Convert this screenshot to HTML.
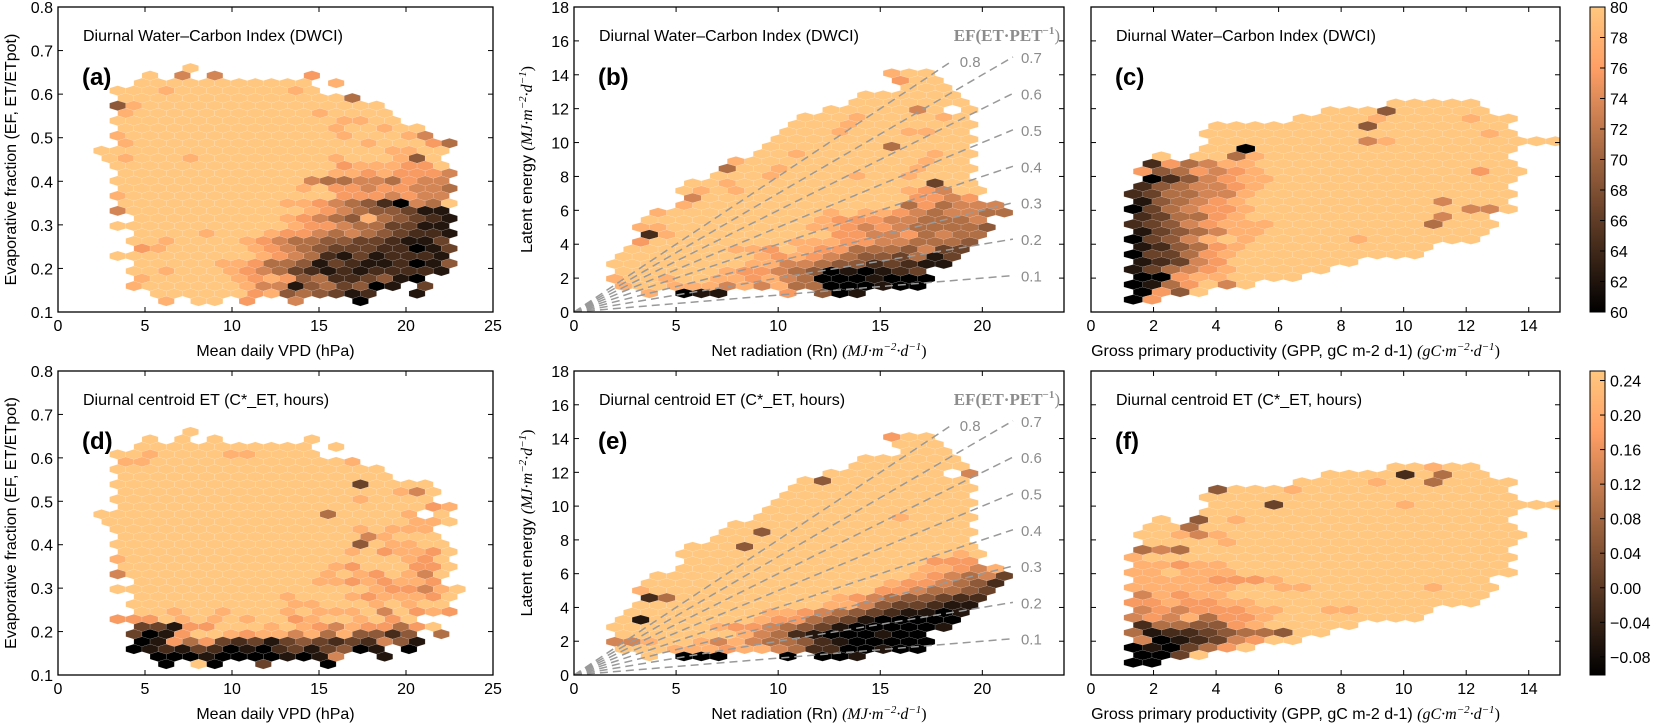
<!DOCTYPE html>
<html><head><meta charset="utf-8"><style>
html,body{margin:0;padding:0;background:#fff;}
svg{display:block;font-family:"Liberation Sans",sans-serif;}
</style></head><body>
<svg id="fig" width="1660" height="726" viewBox="0 0 1660 726" xmlns="http://www.w3.org/2000/svg"></svg>
<script>
// ---------- data (hexbin level maps; 0=black .. 9=lightest) ----------
const efValues = [0.1,0.2,0.3,0.4,0.5,0.6,0.7,0.8];
const efLineEnds = [21.5,21.5,21.5,21.5,21.5,21.5,21.5,18.5];
const cb1Ticks = [60,62,64,66,68,70,72,74,76,78,80];
const cb2Ticks = [-0.08,-0.04,0.00,0.04,0.08,0.12,0.16,0.20,0.24];
const cb2Labels = ["\u22120.08","\u22120.04","0.00","0.04","0.08","0.12","0.16","0.20","0.24"];
const vpdTicks = [0,5,10,15,20,25];
const efTicks = [0.1,0.2,0.3,0.4,0.5,0.6,0.7,0.8];
const rnTicks = [0,5,10,15,20];
const leTicks = [0,2,4,6,8,10,12,14,16,18];
const gppTicks = [0,2,4,6,8,10,12,14];

const hexA = [
[0,".......9"],[0,".....9.6.6.....7"],[0,"....99999999999.8"],[0,"...9998999999989"],
[0,"...999999999999995"],[0,"...48999999999999999"],[0,"...89999999999989999"],[0,"...999999999999998899"],
[0,"...9999999999999899899"],[0,"...89999999999999899986"],[0,"...899999999999999899975"],[0,"..9999999999999999998899"],
[0,"..989998999999998999849"],[0,"...999999999999997888779"],[0,"...999999999999988787776"],[0,"...999999999999655665766"],
[0,"...999999999998977677665"],[0,"...899999999999997776766"],[0,"...999999999988765420659"],[0,"...699999999999876544311"],
[0,"....99999999987654854321"],[0,"...999999999998776553311"],[0,"....99998999877656543221"],[0,"....99899998765544332113"],
[0,"....78999998765433322013"],[0,"...999999999876521312221"],[0,"....99999887554132112014"],[0,"....99899987653212122221"],
[0,"....899999878745223410"],[0,"....89999998661453401.3"],[0,".....99999978454312..1"],[0,"......8.99.7..6...0"]
];
const hexD = [
[0,".......9"],[0,".....9.9.9.....9"],[0,"....99999999999.9"],[0,"...9989999889999"],
[0,"...889999999999998"],[0,"...99999999999999999"],[0,"...99999999999999999"],[0,"...99999999999999939999"],
[0,"...99999999999999999869"],[0,"...99999999999999989999"],[0,"...999999999999999999978"],[0,"..99999999999999599998.9"],
[0,"..9999999999999999999889"],[0,"...99999999999999989888"],[0,"...99999999999999968999"],[0,"...999999999999999498899"],
[0,"...999999999999998978879"],[0,"...899999999999999999879"],[0,"...999999999999987999779"],[0,"...699999999999989879869"],
[0,"....9999999999988787887"],[0,"...9999999999999999877689"],[0,"....99999999989998788879"],[0,"....99999999998899989899"],
[0,"....99899899989888969787"],[0,"...7779898989978998979"],[0,"....3317799989876877579"],[0,"....301799878868584424.5"],
[0,"....017573231343232641"],[0,"....0121320102313401.0"],[0,".....000100001016..1"],[0,"......0.90..3...0"]
];
const hexB = [
[18,"899"],[18,"799"],[19,"999"],[16,"999999"],[16,"9999999"],[14,"9999969.9"],[13,"9998999989"],
[12,"99989999999"],[12,"99989998899"],[11,"999999999999"],[11,"999999959999"],[10,"9989999999899"],
[9,"89999999999899"],[8,"599899999998999"],[8,"999899998998999"],[6,"99899999999999399"],
[6,"989899999999987699"],[6,"69999999999997767"],[6,"8999999999999575666"],[4,"899999999989887656655"],
[4,"99999999998777665556"],[3,"889999999988767655554"],[4,"28999999999776675655"],[3,"79999999988877665554"],
[3,"99999988798775554633"],[2,"99999999878765443513"],[2,"99999999886654423211"],[2,"999999877654010123"],
[2,"8998998878650001000"],[2,"899888686855000100"],[4,"8.011...7.401"]
];
const hexE = [
[18,"799"],[18,"999"],[19,"999"],[16,"999999"],[16,"9999999"],[14,"9999999.6"],[13,"9499999999"],
[12,"99999999999"],[12,"99999999999"],[11,"999999999999"],[11,"999999999999"],[10,"9999999989999"],
[9,"99999999999999"],[8,"994999999999999"],[8,"999999999999999"],[6,"99949999999999999"],
[6,"999999999999999989"],[6,"99999999999999777"],[6,"9999999999999988768"],[4,"999999999999999876563"],
[4,"999999999999998776542"],[3,"899999999999997765543"],[4,"25999999999876544322"],[3,"99999999999886433211"],
[3,"99999999887654321101"],[2,"91999999877543100000"],[2,"99999987765431000001"],[2,"999999986521000100"],
[2,"6689986865542100000"],[2,"999888788652200100"],[4,"9.000...0.001"]
];
const hexC = [
[14,"99999"],[10,"999499999"],[9,"999989999899"],[4,"9999999949999999"],[4,"99999999999999989"],
[4,"9999999968999999999"],[4,"99099999999999999"],[1,"9.99589999999999999"],[1,"27568899999999999999"],
[0,"745767899999999999799"],[1,"02467889999999999999"],[0,"24566789999999999999"],[0,"235566899999999999999"],
[0,"14567899999999996999"],[0,"035677899999999999669"],[0,"2355789999999999699"],[0,"23467888999999995999"],
[0,"1345688999999999999"],[0,"0346898999998999999"],[0,"1245789999999999"],[0,"0335789999999999"],
[0,"123679999999"],[0,"13567899999"],[0,"007889999"],[0,"0157969"],[0,"0749"],[0,"07"]
];
const hexF = [
[14,"99899"],[10,"999929599"],[9,"999989959999"],[4,"4999899999999999"],[4,"99999999999999999"],
[4,"9993999999899999999"],[4,"99999999999999999"],[1,"9.49899999999999999"],[1,"99599999999999999999"],
[0,"998689999999999999999"],[1,"99998999999999999999"],[0,"56599999999999999999"],[0,"899999999999999999999"],
[0,"88788999999999999999"],[0,"889888999999999999999"],[0,"8888777899999999999"],[0,"88888899889999998999"],
[0,"6878899999999999999"],[0,"7787788999999999999"],[0,"6767778899889999"],[0,"6768577899999999"],
[0,"255447899999"],[0,"51223455499"],[0,"601236799"],[0,"0103579"],[0,"0039"],[0,"00"]
];

// ---------- helpers ----------
const NS = "http://www.w3.org/2000/svg";
const svg = document.getElementById('fig');
function mk(tag, attrs, parent){
  const e = document.createElementNS(NS, tag);
  for (const k in attrs) e.setAttribute(k, attrs[k]);
  (parent||svg).appendChild(e);
  return e;
}
function copper(f){
  f = Math.max(0, Math.min(1, f));
  const r = Math.min(1, 1.25*f), g = 0.7812*f, b = 0.4975*f;
  return "rgb(" + Math.round(r*255) + "," + Math.round(g*255) + "," + Math.round(b*255) + ")";
}
function scale(d0, d1, p0, p1){ return v => p0 + (v - d0) / (d1 - d0) * (p1 - p0); }

const COLS = [
  {L:58,R:493,x0:0,x1:25,y0:0.1,y1:0.8},
  {L:574,R:1064,x0:0,x1:24,y0:0,y1:18},
  {L:1091,R:1560,x0:0,x1:15,y0:0,y1:18}
];
const ROWS = [{T:7,B:312},{T:371,B:675}];
const GRIDS = [
  {gx:0.64,dx:0.93,gy:0.125,dy:0.01725},
  {gx:0.3,dx:0.848,gy:1.1,dy:0.433},
  {gx:1.35,dx:0.6,gy:0.73,dy:0.445}
];

function drawHexes(g, rows, grid, sx, sy, name){
  const kx = Math.abs(sx(1) - sx(0)), ky = Math.abs(sy(1) - sy(0));
  const w = grid.dx * kx, rr = grid.dy * ky;
  const n = rows.length;
  rows.forEach((row, i) => {
    const r = n - 1 - i;
    const start = row[0], s = row[1];
    for (let j = 0; j < s.length; j++){
      const ch = s[j];
      if (ch < '0' || ch > '9') continue;
      const k = start + j;
      const cx = sx(grid.gx + grid.dx * (k + (r % 2 ? 0.5 : 0)));
      const cy = sy(grid.gy + grid.dy * r);
      const pts = [[w/2,-rr/3],[w/2,rr/3],[0,2*rr/3],[-w/2,rr/3],[-w/2,-rr/3],[0,-2*rr/3]]
        .map(p => (cx+p[0]).toFixed(2) + "," + (cy+p[1]).toFixed(2)).join(" ");
      const hx = mk('polygon', {points: pts, fill: copper(+ch / 9), stroke: "rgba(255,255,255,0.22)", "stroke-width": "0.5"}, g);
      
      
    }
  });
}

function drawAxes(g, c, rw, sx, sy, xt, yt, showY, yFmt, xFmt, name){
  const fr = mk('rect', {x:c.L, y:rw.T, width:c.R-c.L, height:rw.B-rw.T, fill:"none", stroke:"#000", "stroke-width":"1.3"}, g);
  
  
  xt.forEach(v => {
    const x = sx(v);
    mk('line', {x1:x, x2:x, y1:rw.B, y2:rw.B-5, stroke:"#000", "stroke-width":"1"}, g);
    mk('line', {x1:x, x2:x, y1:rw.T, y2:rw.T+5, stroke:"#000", "stroke-width":"1"}, g);
    const t = mk('text', {x:x, y:rw.B+19, "font-size":"16", "text-anchor":"middle"}, g);
    t.textContent = xFmt(v);
    
    
  });
  yt.forEach(v => {
    const y = sy(v);
    mk('line', {x1:c.L, x2:c.L+5, y1:y, y2:y, stroke:"#000", "stroke-width":"1"}, g);
    mk('line', {x1:c.R, x2:c.R-5, y1:y, y2:y, stroke:"#000", "stroke-width":"1"}, g);
    if (showY){
      const t = mk('text', {x:c.L-5, y:y+6, "font-size":"16", "text-anchor":"end"}, g);
      t.textContent = yFmt(v);
      
      
    }
  });
}

function unitsText(parent, x, y, anchor, prefix, u1, rotate){
  const t = mk('text', {x:x, y:y, "font-size":"16", "text-anchor":anchor}, parent);
  if (rotate) t.setAttribute('transform', 'rotate(-90 ' + x + ' ' + y + ')');
  const a = mk('tspan', {}, t); a.textContent = prefix;
  const b = mk('tspan', {"font-family":"Liberation Serif, serif", "font-style":"italic"}, t); b.textContent = "(" + u1 + "\u00B7m";
  const c = mk('tspan', {"font-family":"Liberation Serif, serif", "font-style":"italic", "font-size":"11", dy:"-6"}, t); c.textContent = "\u22122";
  const d = mk('tspan', {"font-family":"Liberation Serif, serif", "font-style":"italic", dy:"6"}, t); d.textContent = "\u00B7d";
  const e = mk('tspan', {"font-family":"Liberation Serif, serif", "font-style":"italic", "font-size":"11", dy:"-6"}, t); e.textContent = "\u22121";
  const f = mk('tspan', {"font-family":"Liberation Serif, serif", dy:"6"}, t); f.textContent = ")";
  return t;
}

const panelDefs = [
  {col:0,row:0,hex:hexA,tag:"(a)",title:"Diurnal Water\u2013Carbon Index (DWCI)",name:"panel-a"},
  {col:1,row:0,hex:hexB,tag:"(b)",title:"Diurnal Water\u2013Carbon Index (DWCI)",name:"panel-b"},
  {col:2,row:0,hex:hexC,tag:"(c)",title:"Diurnal Water\u2013Carbon Index (DWCI)",name:"panel-c"},
  {col:0,row:1,hex:hexD,tag:"(d)",title:"Diurnal centroid ET (C*_ET, hours)",name:"panel-d"},
  {col:1,row:1,hex:hexE,tag:"(e)",title:"Diurnal centroid ET (C*_ET, hours)",name:"panel-e"},
  {col:2,row:1,hex:hexF,tag:"(f)",title:"Diurnal centroid ET (C*_ET, hours)",name:"panel-f"}
];

panelDefs.forEach(p => {
  const c = COLS[p.col], rw = ROWS[p.row], grid = GRIDS[p.col];
  const sx = scale(c.x0, c.x1, c.L, c.R), sy = scale(c.y0, c.y1, rw.B, rw.T);
  const g = mk('g', {});
  
  
  const clipId = 'clip-' + p.name;
  const cp = mk('clipPath', {id:clipId}, g);
  mk('rect', {x:c.L, y:rw.T, width:c.R-c.L, height:rw.B-rw.T}, cp);
  const hg = mk('g', {"clip-path":"url(#" + clipId + ")"}, g);
  
  
  drawHexes(hg, p.hex, grid, sx, sy, p.name);

  if (p.col === 1){
    const lg = mk('g', {"clip-path":"url(#" + clipId + ")"}, g);
    
    
    efValues.forEach((ef, i) => {
      const xe = efLineEnds[i];
      const ln = mk('line', {x1:sx(0), y1:sy(0), x2:sx(xe), y2:sy(ef*xe), stroke:"#999", "stroke-width":"1.5", "stroke-dasharray":"8,5"}, lg);
      
      
      const t = mk('text', {x:sx(xe)+8, y:sy(ef*xe)+6, "font-size":"15", fill:"#8c8c8c"}, g);
      t.textContent = ef.toFixed(1);
      
      
    });
    const et = mk('text', {x:c.R-4, y:rw.T+34, "font-size":"17", "font-weight":"bold", "font-family":"Liberation Serif, serif", fill:"#8c8c8c", "text-anchor":"end"}, g);
    
    
    const e1 = mk('tspan', {}, et); e1.textContent = "EF(ET\u00B7PET";
    const e2 = mk('tspan', {"font-size":"11", dy:"-7"}, et); e2.textContent = "\u22121";
    const e3 = mk('tspan', {dy:"7", "font-weight":"normal"}, et); e3.textContent = ")";
  }

  let xt, yt, yFmt, xFmt;
  if (p.col === 0){ xt = vpdTicks; yt = efTicks; yFmt = v => v.toFixed(1); xFmt = v => String(v); }
  else if (p.col === 1){ xt = rnTicks; yt = leTicks; yFmt = v => String(v); xFmt = v => String(v); }
  else { xt = gppTicks; yt = leTicks; yFmt = v => String(v); xFmt = v => String(v); }
  drawAxes(g, c, rw, sx, sy, xt, yt, p.col !== 2, yFmt, xFmt, p.name);

  const tt = mk('text', {x:c.L+25, y:rw.T+34, "font-size":"16"}, g);
  tt.textContent = p.title;
  
  
  const tg = mk('text', {x:c.L+24, y:rw.T+78, "font-size":"24", "font-weight":"bold"}, g);
  tg.textContent = p.tag;
  
  

  const cx = (c.L + c.R) / 2, ly = rw.B + 44;
  if (p.col === 0){
    const xl = mk('text', {x:cx, y:ly, "font-size":"16", "text-anchor":"middle"}, g);
    xl.textContent = "Mean daily VPD (hPa)";
    
    
    const yx = 16, yy = (rw.T + rw.B) / 2;
    const yl = mk('text', {x:yx, y:yy, "font-size":"16", "text-anchor":"middle", transform:"rotate(-90 " + yx + " " + yy + ")"}, g);
    yl.textContent = "Evaporative fraction (EF, ET/ETpot)";
    
    
  } else if (p.col === 1){
    const xl = unitsText(g, cx, ly, "middle", "Net radiation (Rn) ", "MJ", false);
    
    
    const yx = 532, yy = (rw.T + rw.B) / 2;
    const yl = unitsText(g, yx, yy, "middle", "Latent energy ", "MJ", true);
    
    
  } else {
    const xl = unitsText(g, cx - 30, ly, "middle", "Gross primary productivity (GPP, gC m-2 d-1) ", "gC", false);
    
    
  }
});

// ---------- colorbars ----------
function colorbar(rw, vmin, vmax, ticks, labels, name){
  const x = 1590, w = 15;
  const g = mk('g', {});
  
  
  const gid = 'grad-' + name;
  const defs = mk('defs', {}, g);
  const lg = mk('linearGradient', {id:gid, x1:"0", y1:"1", x2:"0", y2:"0"}, defs);
  for (let i = 0; i <= 10; i++) mk('stop', {offset: (i/10), "stop-color": copper(i/10)}, lg);
  const r = mk('rect', {x:x, y:rw.T, width:w, height:rw.B-rw.T, fill:"url(#" + gid + ")", stroke:"#000", "stroke-width":"1"}, g);
  
  
  const sy = scale(vmin, vmax, rw.B, rw.T);
  ticks.forEach((v, i) => {
    const y = sy(v);
    mk('line', {x1:x+w-5, x2:x+w, y1:y, y2:y, stroke:"#000", "stroke-width":"1"}, g);
    const t = mk('text', {x:x+w+5, y:y+6, "font-size":"16"}, g);
    t.textContent = labels ? labels[i] : String(v);
    
    
  });
}
colorbar(ROWS[0], 60, 80, cb1Ticks, null, 'colorbar-dwci');
colorbar(ROWS[1], -0.101, 0.251, cb2Ticks, cb2Labels, 'colorbar-centroid');
</script>
</body></html>
